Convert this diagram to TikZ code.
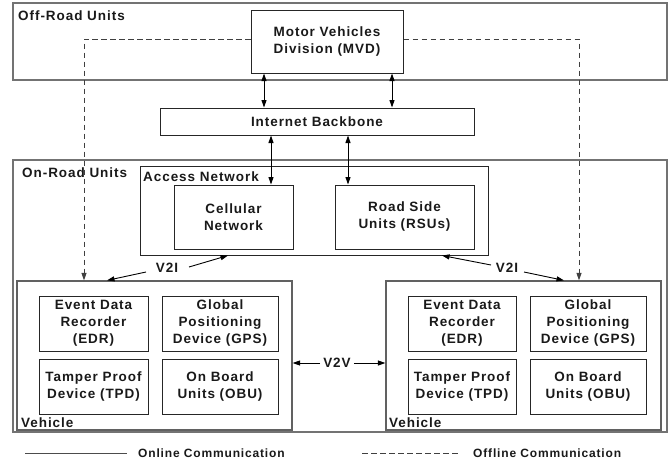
\documentclass[tikz,border=0pt]{standalone}
\usepackage{fontspec}
\setmainfont{Liberation Sans}[LetterSpace=7]
\usetikzlibrary{arrows.meta}
\tikzset{
  lbl/.style={font=\bfseries\fontsize{13.5}{17}\selectfont, text=black!90, inner sep=0pt},
  box/.style={draw=black!85, line width=1pt, align=center, inner sep=0pt, font=\bfseries\fontsize{13.5}{17}\selectfont, text=black!90},
  outerbox/.style={draw=black!55, line width=1.3pt, inner sep=0pt},
  arr/.style={line width=0.9pt, draw=black, -{Triangle[length=7.5pt,width=5pt]}},
  darr/.style={line width=0.9pt, draw=black, {Triangle[length=7.5pt,width=5pt]}-{Triangle[length=7.5pt,width=5pt]}},
  offline/.style={line width=0.9pt, draw=black!75, dash pattern=on 5.5pt off 3.5pt},
}
\begin{document}
\begin{tikzpicture}[x=1pt,y=-1pt]
\useasboundingbox (0,0) rectangle (671,461);
% outer regions
\node[outerbox, minimum width=654, minimum height=77] (offroad) at (340,41.5) {};
\node[outerbox, minimum width=654, minimum height=272] (onroad) at (340,296) {};
\node[lbl, anchor=west] (offlbl) at (18,16) {Off-Road Units};
\node[lbl, anchor=west] (onlbl) at (22,173) {On-Road Units};
% MVD and backbone
\node[box, fill=white, minimum width=152, minimum height=63] (mvd) at (327,41.5) {Motor Vehicles\\Division (MVD)};
\node[box, minimum width=314, minimum height=27] (ib) at (317,121.5) {Internet Backbone};
% access network
\node[box, minimum width=348, minimum height=89] (an) at (314,210.5) {};
\node[lbl, anchor=west] (anlbl) at (143,177) {Access Network};
\node[box, minimum width=119, minimum height=64] (cell) at (233.5,217) {Cellular\\Network};
\node[box, minimum width=139, minimum height=64] (rsu) at (404.5,217) {Road Side\\Units (RSUs)};
% vehicles
\node[outerbox, draw=black!62, line width=1.2pt, minimum width=275, minimum height=149] (vehL) at (154.5,355.5) {};
\node[outerbox, draw=black!62, line width=1.2pt, minimum width=275, minimum height=149] (vehR) at (523.5,355.5) {};
\node[lbl, anchor=west] (vlL) at (21,423) {Vehicle};
\node[lbl, anchor=west] (vlR) at (389,423) {Vehicle};
\node[box, minimum width=109, minimum height=55] (edrL) at (93.5,323.5) {Event Data\\Recorder\\(EDR)};
\node[box, minimum width=116, minimum height=55] (gpsL) at (220,323.5) {Global\\Positioning\\Device (GPS)};
\node[box, minimum width=109, minimum height=55] (tpdL) at (93.5,386.5) {Tamper Proof\\Device (TPD)};
\node[box, minimum width=116, minimum height=55] (obuL) at (220,386.5) {On Board\\Units (OBU)};
\node[box, minimum width=108, minimum height=55] (edrR) at (462,323.5) {Event Data\\Recorder\\(EDR)};
\node[box, minimum width=116, minimum height=55] (gpsR) at (588,323.5) {Global\\Positioning\\Device (GPS)};
\node[box, minimum width=108, minimum height=55] (tpdR) at (462,386.5) {Tamper Proof\\Device (TPD)};
\node[box, minimum width=116, minimum height=55] (obuR) at (588,386.5) {On Board\\Units (OBU)};
% online links
\draw[darr] (264,0 |- mvd.south) -- (264,0 |- ib.north);
\draw[darr] (392,0 |- mvd.south) -- (392,0 |- ib.north);
\draw[darr] (271,0 |- ib.south) -- (271,0 |- cell.north);
\draw[darr] (348,0 |- ib.south) -- (348,0 |- rsu.north);
% V2I
\node[lbl] (v2il) at (167,268) {V2I};
\draw[arr] (189,267) -- (228,0 |- an.south);
\draw[arr] (146,272) -- (107,0 |- vehL.north);
\node[lbl] (v2ir) at (507,268) {V2I};
\draw[arr] (491,265) -- (442,0 |- an.south);
\draw[arr] (524,272) -- (564,0 |- vehR.north);
% V2V
\node[lbl, inner xsep=3pt] (v2v) at (337,363) {V2V};
\draw[arr] (v2v.west) -- (vehL.east |- v2v.center);
\draw[arr] (v2v.east) -- (vehR.west |- v2v.center);
% offline links
\draw[offline, -{Triangle[length=7.5pt,width=5pt]}] (mvd.west |- 0,39) -| (84,0 |- vehL.north);
\draw[offline, -{Triangle[length=7.5pt,width=5pt]}] (mvd.east |- 0,39) -| (579,0 |- vehR.north);
% legend
\coordinate (onA) at (25,453);
\coordinate (onB) at (127,453);
\draw[line width=0.9pt, draw=black!70] (onA) -- (onB);
\node[lbl, anchor=west, font=\bfseries\fontsize{12}{14}\selectfont] (onT) at (138,453) {Online Communication};
\coordinate (offA) at (362,453);
\coordinate (offB) at (458,453);
\draw[offline] (offA) -- (offB);
\node[lbl, anchor=west, font=\bfseries\fontsize{12}{14}\selectfont] (offT) at (473,453) {Offline Communication};
\end{tikzpicture}
\end{document}
